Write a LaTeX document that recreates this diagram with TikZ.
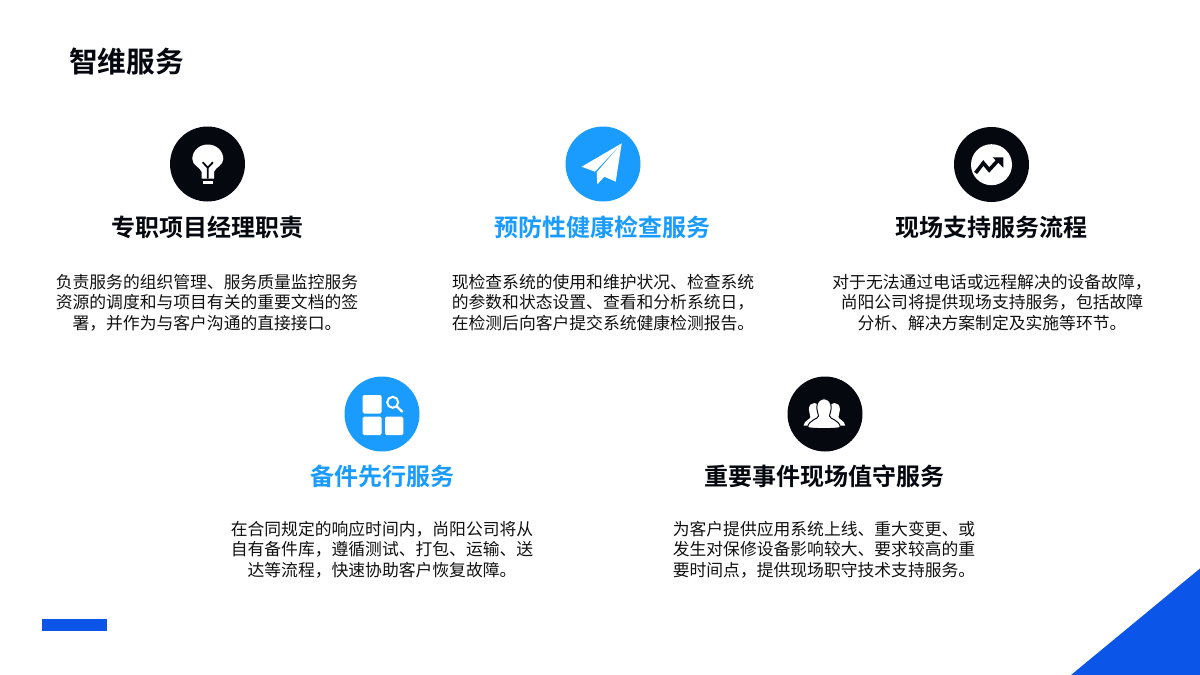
\documentclass[tikz,border=0pt]{standalone}
\usepackage{fontspec}
\setmainfont{Noto Sans CJK SC}
\newfontfamily\cjkb{Noto Sans CJK SC Bold}
\definecolor{ink}{HTML}{05080F}
\definecolor{sky}{HTML}{1A9CFF}
\definecolor{royal}{HTML}{0B55E8}
\definecolor{txt}{HTML}{111111}
\tikzset{
  disc/.style={circle,inner sep=0pt,minimum size=75pt,fill=#1},
  headtxt/.style={font=\fontsize{24pt}{28pt}\selectfont\cjkb,inner sep=0pt,anchor=center},
  bodytxt/.style={font=\fontsize{16.8pt}{20.5pt}\selectfont,text=txt,align=center,inner sep=0pt,anchor=center},
  titletxt/.style={font=\fontsize{28.7pt}{32pt}\selectfont\cjkb,text=ink,inner sep=0pt,anchor=west},
  icon/.style={fill=white,draw=none}
}
\begin{document}
\begin{tikzpicture}[x=1pt,y=-1pt]
\useasboundingbox (0,0) rectangle (1200,675);
\fill[white] (0,0) rectangle (1200,675);
\fill[royal] (42,619) rectangle (107,631);
\fill[royal] (1071,675) -- (1200,568.5) -- (1200,675) -- cycle;
\node[titletxt] (title) at (69,62) {智维服务};

% icons
\node[disc=ink] (d1) at (207.5,164) {};
\node[disc=sky] (d2) at (603,164) {};
\node[disc=ink] (d3) at (991.5,164.5) {};
\node[disc=sky] (d4) at (382,414) {};
\node[disc=ink] (d5) at (825,414) {};

% bulb
\fill[icon] (201.7,172) .. controls (200,167) and (192.3,165.5) .. (192.3,159)
  .. controls (192.3,151) and (199,144.5) .. (207.8,144.5)
  .. controls (216.6,144.5) and (223.3,151) .. (223.3,159)
  .. controls (223.3,165.5) and (215.6,167) .. (214,172)
  -- (214,178.5) -- (201.7,178.5) -- cycle;
\fill[icon] (202.7,181) rectangle (213.3,184.3);
\draw[ink,line width=1.8pt] (202.7,162.3) -- (207.8,167.7) -- (212.9,162.3) (207.8,167.7) -- (207.8,178.5);

% plane
\fill[icon] (621.7,143.3) -- (581.7,166.7) -- (595,171.7) -- cycle;
\fill[icon] (621.7,143.3) -- (596.7,172.3) -- (597.3,184.3) -- (604.3,176.7) -- (615.7,181.7) -- cycle;

% trend
\fill[icon] (991.5,164.7) circle (20.5);
\draw[ink,line width=3.6pt,line join=miter] (975.6,173) -- (983.3,163) -- (989.2,170) -- (998.5,159.8);
\fill[ink] (992.7,157.3) -- (1003.3,157.3) -- (1003.3,167.7) -- cycle;

% grid
\fill[icon,rounded corners=1.5pt] (362.7,395) rectangle (381.7,413.5);
\fill[icon,rounded corners=1.5pt] (362.7,416.7) rectangle (381.7,435);
\fill[icon,rounded corners=1.5pt] (385,416.7) rectangle (403.3,435);
\draw[white,line width=2pt] (392.7,402.3) circle (5.5);
\draw[white,line width=2.2pt,line cap=round] (396.7,406.5) -- (402.3,411.7);

% people
\foreach \dx in {-10,10}{
  \begin{scope}[shift={(824.4+\dx,0)}]
    \fill[icon] (-5.5,409.5) .. controls (-5.5,405) and (-3,403) .. (0,403)
      .. controls (3,403) and (5.5,405) .. (5.5,409.5)
      .. controls (5.5,413) and (4,415) .. (4,417)
      .. controls (4,419.5) and (10,420) .. (10.8,425.5)
      -- (-10.8,425.5) .. controls (-10,420) and (-4,419.5) .. (-4,417)
      .. controls (-4,415) and (-5.5,413) .. (-5.5,409.5) -- cycle;
  \end{scope}
}
\fill[icon,draw=ink,line width=1pt] (816.8,407) .. controls (816.8,402) and (820,398.8) .. (824,398.8)
  .. controls (828,398.8) and (831.2,402) .. (831.2,407)
  .. controls (831.2,411.5) and (829.5,414) .. (829.5,416)
  .. controls (829.5,419) and (840,420) .. (840.3,427.5)
  .. controls (835,429) and (813,429) .. (807.7,427.5)
  .. controls (808,420) and (818.5,419) .. (818.5,416)
  .. controls (818.5,414) and (816.8,411.5) .. (816.8,407) -- cycle;

% headings
\node[headtxt,text=ink] (h1) at (207,227) {专职项目经理职责};
\node[headtxt,text=sky] (h2) at (602.5,227) {预防性健康检查服务};
\node[headtxt,text=ink] (h3) at (991.5,227) {现场支持服务流程};
\node[headtxt,text=sky] (h4) at (382,476) {备件先行服务};
\node[headtxt,text=ink] (h5) at (824.5,476) {重要事件现场值守服务};

% bodies
\node[bodytxt] (b1) at (207,302.5) {负责服务的组织管理、服务质量监控服务\\资源的调度和与项目有关的重要文档的签\\署，并作为与客户沟通的直接接口。};
\node[bodytxt] (b2) at (603,302.5) {现检查系统的使用和维护状况、检查系统\\的参数和状态设置、查看和分析系统日，\\在检测后向客户提交系统健康检测报告。};
\node[bodytxt] (b3) at (992,302.5) {对于无法通过电话或远程解决的设备故障，\\尚阳公司将提供现场支持服务，包括故障\\分析、解决方案制定及实施等环节。};
\node[bodytxt] (b4) at (382,549.5) {在合同规定的响应时间内，尚阳公司将从\\自有备件库，遵循测试、打包、运输、送\\达等流程，快速协助客户恢复故障。};
\node[bodytxt] (b5) at (824,549.5) {为客户提供应用系统上线、重大变更、或\\发生对保修设备影响较大、要求较高的重\\要时间点，提供现场职守技术支持服务。};
\end{tikzpicture}
\end{document}
